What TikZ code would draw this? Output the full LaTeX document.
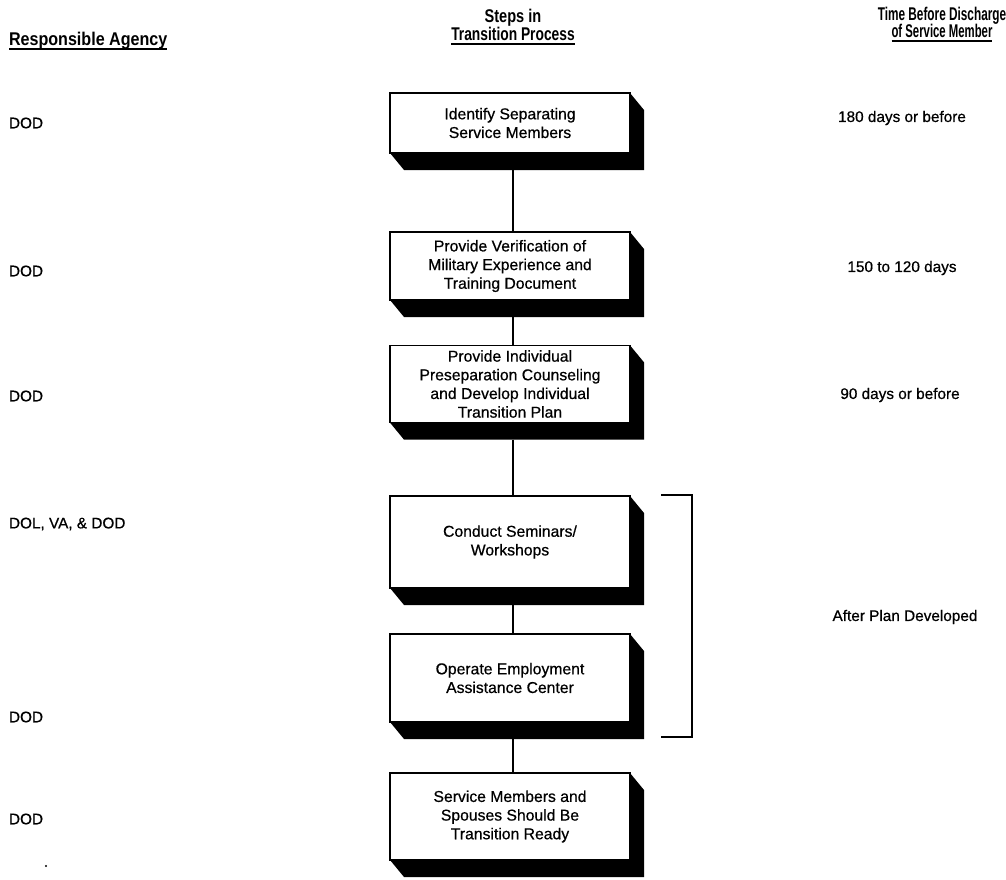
\documentclass[tikz,border=0pt]{standalone}
\usepackage{fontspec}
\setmainfont{Liberation Sans}
\newfontfamily\medfont[FakeBold=0.6]{Liberation Sans}
\usetikzlibrary{calc}
\begin{document}
\begin{tikzpicture}[x=0.75pt,y=-0.75pt,
  every node/.style={inner sep=0pt,outer sep=0pt},
  bodytext/.style={font=\medfont\fontsize{11.8}{14}\selectfont,align=center},
  sidetext/.style={font=\medfont\fontsize{11.5}{14}\selectfont},
  headtext/.style={font=\fontsize{11.5}{13}\selectfont\bfseries,align=center},
  stepbox/.style={bodytext,draw,line width=1.1pt,fill=white,minimum width=180pt},
  shadowfill/.style={fill=black},
  conn/.style={line width=0.9pt},
  ul/.style={line width=1pt}]
\useasboundingbox (0,0) rectangle (1006,879);

% headers
\node[headtext,anchor=base west] (hA) at (9,45) {\scalebox{1.05}[1.2]{Responsible Agency}};
\draw[ul] ($(hA.base west)+(0,4)$) -- ($(hA.base east)+(0,4)$);
\node[headtext,anchor=base] (hS1) at (513,22) {\scalebox{0.95}[1.2]{Steps in}};
\node[headtext,anchor=base] (hS2) at (513,40) {\scalebox{0.9}[1.2]{Transition Process}};
\draw[ul] ($(hS2.base west)+(0,4)$) -- ($(hS2.base east)+(0,4)$);
\node[headtext,anchor=base] (hT1) at (942,20) {\scalebox{0.77}[1.2]{Time Before Discharge}};
\node[headtext,anchor=base] (hT2) at (942,37) {\scalebox{0.74}[1.2]{of Service Member}};
\draw[ul] ($(hT2.base west)+(0,4)$) -- ($(hT2.base east)+(0,4)$);

% boxes
\node[stepbox,minimum height=45pt] (b1) at (510,123) {Identify Separating\\Service Members};
\node[stepbox,minimum height=51pt] (b2) at (510,266) {Provide Verification of\\Military Experience and\\Training Document};
\node[stepbox,minimum height=58pt] (b3) at (510,384) {Provide Individual\\Preseparation Counseling\\and Develop Individual\\Transition Plan};
\node[stepbox,minimum height=69pt] (b4) at (510,542) {Conduct Seminars/\\Workshops};
\node[stepbox,minimum height=66pt] (b5) at (510,678) {Operate Employment\\Assistance Center};
\node[stepbox,minimum height=65.25pt] (b6) at (510,816.5) {Service Members and\\Spouses Should Be\\Transition Ready};

% extruded shadows
\foreach \b in {b1,b2,b3,b4,b5,b6}{
  \fill[shadowfill] (\b.north east) -- ++(14,17) -- ($(\b.south east)+(14,17)$)
     -- ($(\b.south west)+(14,17)$) -- (\b.south west) -- (\b.south east) -- cycle;
}

% connectors
\draw[conn] ($(b1.south)+(3,17)$) -- ($(b2.north)+(3,0)$);
\draw[conn] ($(b2.south)+(3,17)$) -- ($(b3.north)+(3,0)$);
\draw[conn] ($(b3.south)+(3,17)$) -- ($(b4.north)+(3,0)$);
\draw[conn] ($(b4.south)+(3,17)$) -- ($(b5.north)+(3,0)$);
\draw[conn] ($(b5.south)+(3,17)$) -- ($(b6.north)+(3,0)$);

% bracket
\coordinate (brT) at (661,495);
\coordinate (brB) at (661,737);
\draw[conn] (brT) -- ++(31,0) -- ($(brB)+(31,0)$) -- (brB);

% responsible agency
\node[sidetext,anchor=west] (a1) at (9,123) {DOD};
\node[sidetext,anchor=west] (a2) at (9,271) {DOD};
\node[sidetext,anchor=west] (a3) at (9,396) {DOD};
\node[sidetext,anchor=west] (a4) at (9,524) {DOL, VA, \& DOD};
\node[sidetext,anchor=west] (a5) at (9,717) {DOD};
\node[sidetext,anchor=west] (a6) at (9,819) {DOD};
\fill (46,866) circle (1.2);

% time before discharge
\node[sidetext] (t1) at (902,118) {180 days or before};
\node[sidetext] (t2) at (902,268) {150 to 120 days};
\node[sidetext] (t3) at (900,395) {90 days or before};
\node[sidetext] (t4) at (905,617) {After Plan Developed};
\end{tikzpicture}
\end{document}
